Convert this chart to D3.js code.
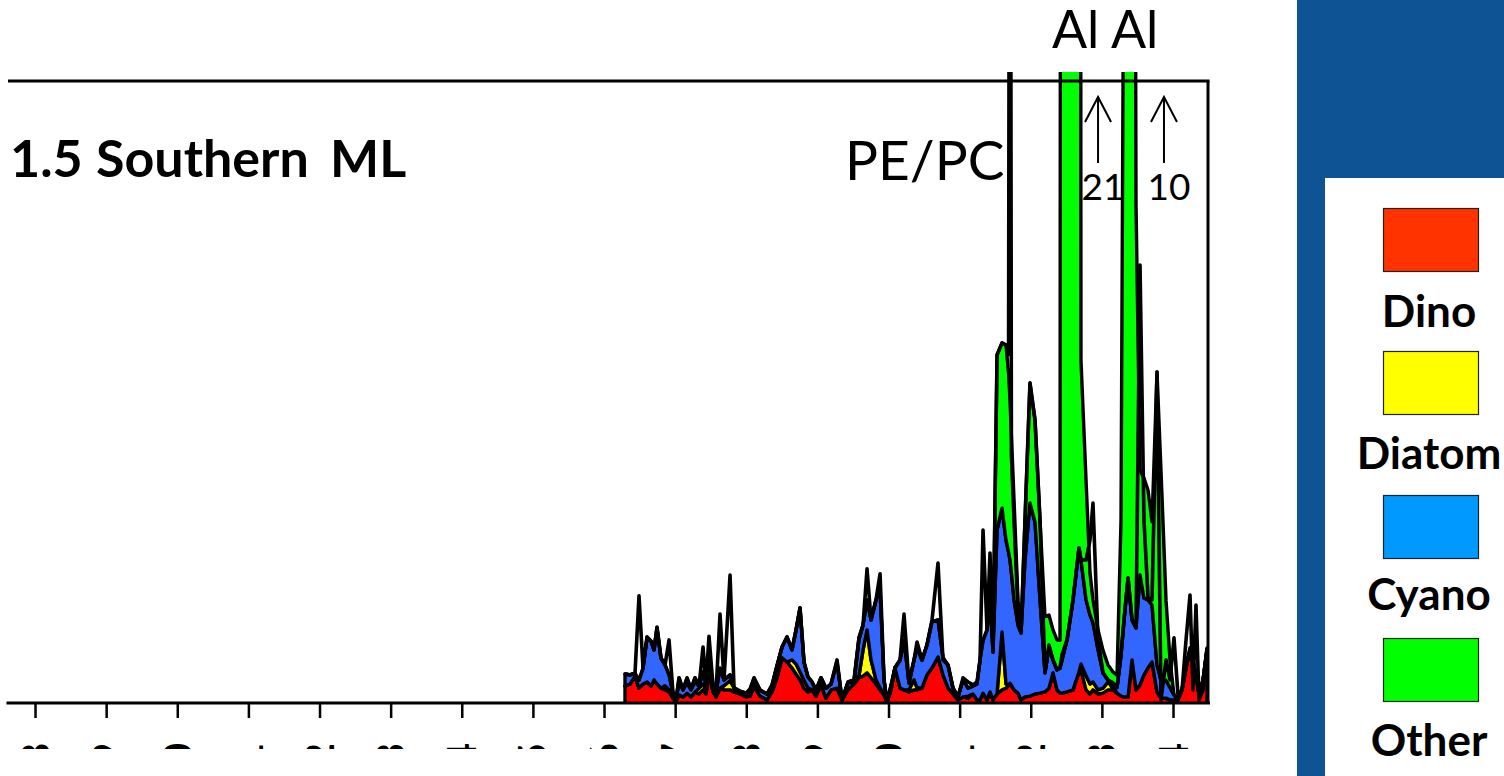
<!DOCTYPE html>
<html>
<head>
<meta charset="utf-8">
<script src="https://cdn.jsdelivr.net/npm/d3@7"></script>
<style>
  html, body { margin: 0; padding: 0; background: #fff; overflow: hidden; }
  svg { display: block; }
</style>
</head>
<body>
<svg id="chart" width="1504" height="776"></svg>
<script>
// Sample dates (decimal years) for the Southern ML station
const sampleYear = [
  2006.295, 2006.366, 2006.436, 2006.492, 2006.548, 2006.605, 2006.661, 2006.703, 2006.745, 2006.801,
  2006.858, 2006.914, 2006.970, 2007.012, 2007.055, 2007.111, 2007.167, 2007.223, 2007.279, 2007.336,
  2007.392, 2007.434, 2007.476, 2007.533, 2007.575, 2007.631, 2007.687, 2007.772, 2007.828, 2007.912,
  2007.997, 2008.053, 2008.109, 2008.193, 2008.292, 2008.362, 2008.432, 2008.503, 2008.573, 2008.643,
  2008.700, 2008.756, 2008.812, 2008.868, 2008.924, 2008.981, 2009.051, 2009.121, 2009.192, 2009.276,
  2009.346, 2009.431, 2009.515, 2009.585, 2009.642, 2009.698, 2009.754, 2009.824, 2009.881, 2009.937,
  2009.979, 2010.035, 2010.091, 2010.162, 2010.218, 2010.288, 2010.359, 2010.401, 2010.471, 2010.541,
  2010.612, 2010.696, 2010.766, 2010.837, 2010.907, 2010.977, 2011.048, 2011.118, 2011.188, 2011.244,
  2011.287, 2011.329, 2011.385, 2011.427, 2011.469, 2011.526, 2011.596, 2011.652, 2011.688, 2011.708, 2011.728, 2011.765,
  2011.821, 2011.863, 2011.919, 2011.989, 2012.060, 2012.130, 2012.200, 2012.256, 2012.313, 2012.369,
  2012.411, 2012.439, 2012.510, 2012.594, 2012.678, 2012.706, 2012.777, 2012.833, 2012.875, 2012.946,
  2013.016, 2013.086, 2013.157, 2013.213, 2013.269, 2013.311, 2013.368, 2013.424, 2013.480, 2013.536,
  2013.592, 2013.649, 2013.705, 2013.775, 2013.831, 2013.902, 2013.958, 2014.014, 2014.070, 2014.127,
  2014.183, 2014.239, 2014.281, 2014.323, 2014.366, 2014.422, 2014.478
];

// Pigment-derived group contributions
const dino = [
  .043, .048, .067, .038, .048, .053, .043, .058, .048, .038,
  .034, .029, .014, .007, .022, .017, .026, .017, .029, .024,
  .034, .024, .075, .029, .017, .038, .034, .034, .029, .024,
  .017, .019, .043, .019, .010, .029, .063, .111, .101, .087,
  .072, .058, .038, .029, .034, .019, .046, .014, .034, .038,
  .010, .034, .048, .063, .067, .075, .063, .048, .034, .022,
  .005, .034, .087, .038, .034, .029, .034, .034, .038, .070,
  .087, .113, .070, .038, .024, .010, .017, .014, .024, .010,
  .010, .026, .010, .029, .010, .024, .034, .038, .045, .050, .045, .034,
  .026, .010, .017, .019, .024, .026, .029, .038, .075, .034,
  .026, .026, .029, .034, .077, .082, .034, .024, .034, .024,
  .026, .034, .034, .026, .019, .017, .017, .106, .034, .046,
  .070, .087, .101, .029, .014, .014, .010, .010, .010, .034,
  .087, .130, .101, .070, .022, .058, .130
];

const diatom = [
  0, 0, 0, 0, 0, 0, 0, 0, 0, 0,
  .010, .005, 0, 0, 0, 0, 0, 0, 0, .014,
  .014, .010, 0, 0, 0, 0, .010, .022, .010, .002,
  0, 0, 0, 0, 0, 0, 0, 0, 0, .019,
  .024, .019, .019, .010, 0, 0, 0, 0, 0, 0,
  0, 0, 0, .005, .063, .103, .043, .010, .005, 0,
  0, 0, 0, 0, 0, .005, .024, .005, 0, 0,
  0, 0, 0, 0, 0, 0, 0, .005, 0, 0,
  0, 0, 0, 0, 0, 0, .139, .010, 0, 0, 0, 0,
  0, 0, 0, 0, 0, 0, 0, 0, 0, 0,
  0, 0, 0, 0, 0, .014, .034, .024, .019, .010,
  .012, .019, .007, 0, 0, 0, 0, 0, 0, 0,
  0, 0, 0, 0, 0, 0, 0, 0, 0, 0,
  0, 0, 0, 0, 0, 0, 0
];

const cyano = [
  .029, .022, .007, .019, .038, .106, .108, .072, .135, .072,
  .050, .036, .012, .002, .031, .017, .026, .017, .024, .005,
  .029, .014, .031, .014, .012, .048, .014, .014, 0, 0,
  .007, .014, .014, .014, .014, .014, .029, .026, .060, .024,
  .082, .154, .043, .026, .019, .014, .017, .024, .014, .063,
  0, .017, .005, .087, .060, .072, .096, .192, .236, .036,
  0, .010, 0, .067, .120, .017, .048, .096, .067, .072,
  .111, .089, .041, .055, .014, .007, .041, .019, .019, .038,
  .096, .127, .168, .221, .115, .394, .298, .346, .320, .296, .270, .216,
  .163, .161, .329, .464, .413, .224, .046, .099, .031, .048,
  .060, .079, .125, .216, .298, .250, .183, .166, .142, .096,
  .036, .005, .010, .014, .099, .185, .286, .096, .149, .264,
  .185, .163, .137, .065, .043, .043, .029, .012, 0, 0,
  0, 0, 0, 0, 0, 0, 0
];

const other = [
  0, 0, 0, 0, 0, .002, 0, 0, 0, 0,
  0, 0, 0, 0, .010, 0, .010, .002, .010, 0,
  0, 0, 0, 0, 0, 0, 0, 0, 0, .005,
  .002, .002, .005, 0, 0, .002, 0, 0, 0, 0,
  0, 0, 0, 0, 0, 0, 0, 0, 0, 0,
  0, .002, .005, .005, 0, 0, 0, 0, 0, 0,
  0, 0, 0, 0, 0, 0, 0, 0, 0, 0,
  0, 0, 0, 0, 0, 0, 0, 0, 0, 0,
  0, 0, 0, 0, 0, .421, .397, .469, .430, .385, .330, .240,
  .060, 0, .096, .288, .245, .192, .135, .077, .072, .072,
  .067, 8.894, 20.846, 15.750, 7.625, .481, .288, .101, .055, .048,
  .055, .036, .026, .029, .325, 1.798, 9.697, 4.798, 1.017, .252,
  .288, .264, .200, .704, .505, .192, .067, 0, 0, 0,
  .005, .005, .005, 0, 0, 0, .005
];

// PE/PC ratio, drawn as a black line on the same axis
const pepc = [
  .072, .070, .075, .260, .087, .161, .151, .130, .185, .111,
  .094, .154, .026, .010, .063, .034, .063, .036, .063, .043,
  .137, .048, .163, .043, .029, .216, .058, .310, .038, .031,
  .026, .036, .063, .034, .024, .046, .091, .137, .161, .130,
  .178, .231, .101, .065, .053, .034, .063, .038, .048, .106,
  .010, .053, .058, .159, .190, .325, .202, .250, .313, .058,
  .005, .043, .087, .106, .216, .050, .106, .149, .106, .142,
  .202, .339, .106, .094, .038, .017, .063, .053, .046, .053,
  .106, .418, .178, .363, .125, .839, .868, .863, .840, 3.2, .600, .442,
  .226, .171, .442, .772, .683, .442, .075, .142, .106, .082,
  .087, .118, .154, .250, .375, .346, .346, .394, .483, .154,
  .075, .058, .034, .041, .118, .202, .303, .202, .183, 1.055,
  .442, .255, .250, .798, .010, .106, .058, .159, .022, .034,
  .154, .262, .034, .238, .010, .034, .135
];

const seriesNames = ["Dino", "Diatom", "Cyano", "Other"];
const areaColors = ["#ff0000", "#ffff00", "#3366ff", "#00ff00"];
const legendColors = ["#ff3300", "#ffff00", "#0099ff", "#00ff00"];
const tickYears = [1998, 1999, 2000, 2001, 2002, 2003, 2004, 2005, 2006,
                   2007, 2008, 2009, 2010, 2011, 2012, 2013, 2014];

// Off-scale peaks: arrow position (decimal year) and the peak value it reports
const offScaleYear = [2012.946, 2013.873];
const offScaleValue = [21, 10];

const svg = d3.select("#chart");

const x = d3.scaleLinear().domain([1997.62, 2014.492]).range([8, 1208]);
const y = d3.scaleLinear().domain([0, 1.5]).range([704, 80]);

const defs = svg.append("defs");
defs.append("clipPath").attr("id", "plotClip")
  .append("rect").attr("x", 8).attr("y", 72).attr("width", 1200).attr("height", 632);
defs.append("clipPath").attr("id", "labelClip")
  .append("rect").attr("x", 0).attr("y", 0).attr("width", 1290).attr("height", 749);

// Stacked groups
const rows = sampleYear.map((t, i) => ({
  t, Dino: dino[i], Diatom: diatom[i], Cyano: cyano[i], Other: other[i]
}));
const stacked = d3.stack().keys(seriesNames)(rows);

const area = d3.area()
  .x(d => x(d.data.t))
  .y0(d => y(d[0]))
  .y1(d => y(d[1]));

const plotG = svg.append("g").attr("clip-path", "url(#plotClip)");

plotG.selectAll("path.layer")
  .data(stacked)
  .join("path")
  .attr("class", "layer")
  .attr("d", area)
  .attr("fill", (d, i) => areaColors[i])
  .attr("stroke", "#000")
  .attr("stroke-width", 3.4)
  .attr("stroke-linejoin", "round");

const pepcLine = d3.line()
  .x((d, i) => x(sampleYear[i]))
  .y(d => y(d));

plotG.append("path")
  .attr("d", pepcLine(pepc))
  .attr("fill", "none")
  .attr("stroke", "#000")
  .attr("stroke-width", 3.6)
  .attr("stroke-linejoin", "round");

// Frame: top and right borders
svg.append("line").attr("x1", 8).attr("x2", 1209.5).attr("y1", 81).attr("y2", 81)
  .attr("stroke", "#000").attr("stroke-width", 3);
svg.append("line").attr("x1", 1208).attr("x2", 1208).attr("y1", 81).attr("y2", 704)
  .attr("stroke", "#000").attr("stroke-width", 3);

// Bottom axis with rotated year labels
const axisWrap = svg.append("g").attr("clip-path", "url(#labelClip)");
const axisG = axisWrap.append("g")
  .attr("transform", "translate(0,703)")
  .call(d3.axisBottom(x).tickValues(tickYears).tickFormat(d3.format("d"))
    .tickSizeInner(15).tickSizeOuter(0));
axisG.select(".domain").attr("stroke", "#000").attr("stroke-width", 3)
  .attr("d", "M6.5,0H1210");
axisG.selectAll(".tick line").attr("stroke", "#000").attr("stroke-width", 2.5);
axisG.selectAll(".tick text")
  .attr("transform", "rotate(-90)")
  .attr("x", -40).attr("y", 14).attr("dy", 0)
  .attr("text-anchor", "end")
  .attr("fill", "#000")
  .style("font-family", "Lato, sans-serif")
  .style("font-weight", "bold")
  .style("font-size", "40px");

// Title
const titleParts = [["1.5", 10], ["Southern", 96], ["ML", 330]];
svg.selectAll("text.title")
  .data(titleParts)
  .join("text")
  .attr("class", "title")
  .attr("x", d => d[1]).attr("y", 177)
  .style("font-family", "Lato, sans-serif")
  .style("font-weight", "bold")
  .style("font-size", "52px")
  .text(d => d[0]);

// Annotations
svg.append("text").attr("x", 845).attr("y", 180)
  .style("font-family", "Lato, sans-serif").style("font-size", "55px")
  .text("PE/PC");
svg.append("text").attr("x", 1052).attr("y", 48)
  .style("font-family", "Lato, sans-serif").style("font-size", "52px")
  .text("Al Al");

offScaleYear.forEach((yr, i) => {
  const ax = x(yr);
  svg.append("path")
    .attr("d", `M${ax},163V97M${ax - 13},122L${ax},97L${ax + 13},122`)
    .attr("fill", "none").attr("stroke", "#000").attr("stroke-width", 2);
  svg.append("text").attr("x", ax + 5).attr("y", 200)
    .attr("text-anchor", "middle")
    .style("font-family", "Lato, sans-serif").style("font-size", "37px")
    .text(offScaleValue[i]);
});

// Legend panel
svg.append("rect").attr("x", 1297).attr("y", 0).attr("width", 207).attr("height", 776)
  .attr("fill", "#0e5394");
svg.append("rect").attr("x", 1325).attr("y", 178).attr("width", 179).attr("height", 598)
  .attr("fill", "#fff");

const legendTop = [208, 351, 495, 638];
const legendLabelY = [327, 469, 610, 756];
const legendG = svg.append("g");
seriesNames.forEach((name, i) => {
  legendG.append("rect")
    .attr("x", 1383.5).attr("y", legendTop[i] + 0.5)
    .attr("width", 95).attr("height", 63)
    .attr("fill", legendColors[i]).attr("stroke", "#222").attr("stroke-width", 1.2);
  legendG.append("text")
    .attr("x", 1429).attr("y", legendLabelY[i])
    .attr("text-anchor", "middle")
    .style("font-family", "Lato, sans-serif")
    .style("font-weight", "bold")
    .style("font-size", "44px")
    .text(name);
});
</script>
</body>
</html>
